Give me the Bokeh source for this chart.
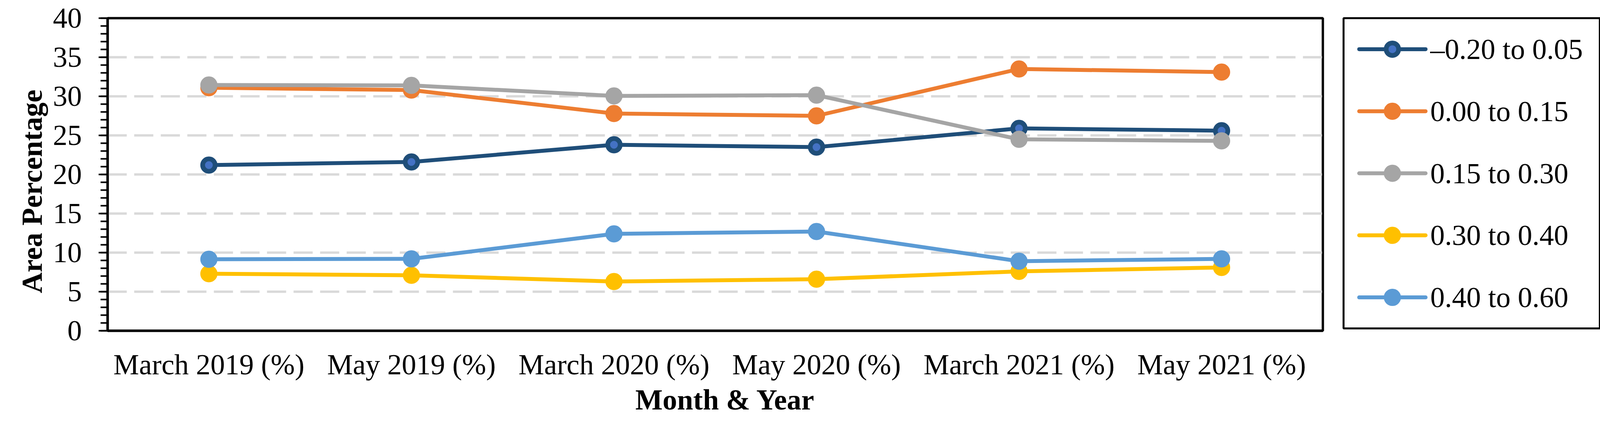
from bokeh.plotting import figure
from bokeh.models import SingleIntervalTicker, Range1d, FactorRange, Title
from bokeh.layouts import row
from bokeh.core.properties import value
from bokeh.embed import file_html
from bokeh.resources import INLINE

months = ["March 2019 (%)", "May 2019 (%)", "March 2020 (%)", "May 2020 (%)",
          "March 2021 (%)", "May 2021 (%)"]
series_names = ["\u20130.20 to 0.05", "0.00 to 0.15", "0.15 to 0.30", "0.30 to 0.40", "0.40 to 0.60"]
s_neg20_005 = [21.2, 21.6, 23.8, 23.5, 25.9, 25.6]
s_000_015 = [31.1, 30.8, 27.8, 27.5, 33.5, 33.1]
s_015_030 = [31.45, 31.4, 30.05, 30.15, 24.5, 24.3]
s_030_040 = [7.3, 7.1, 6.3, 6.6, 7.6, 8.1]
s_040_060 = [9.15, 9.2, 12.4, 12.7, 8.9, 9.2]
series_values = [s_neg20_005, s_000_015, s_015_030, s_030_040, s_040_060]
line_colors = ["#1F4E79", "#ED7D31", "#A5A5A5", "#FFC000", "#5B9BD5"]
fill_colors = ["#4472C4", "#ED7D31", "#A5A5A5", "#FFC000", "#5B9BD5"]

FONT = "Liberation Serif"
FS = "74px"

# ---------------- main chart ----------------
p = figure(x_range=FactorRange(factors=months, range_padding=0),
           y_range=Range1d(0, 40),
           frame_width=3111, frame_height=800,
           min_border_left=275, min_border_right=14,
           min_border_top=46, min_border_bottom=210,
           output_backend="svg", toolbar_location=None)

p.outline_line_color = "black"
p.outline_line_width = 6
p.xgrid.visible = False
p.ygrid.grid_line_color = "#D9D9D9"
p.ygrid.grid_line_width = 6
p.ygrid.grid_line_dash = "49 19"

p.yaxis.ticker = SingleIntervalTicker(interval=5, num_minor_ticks=5)
ya = p.yaxis[0]
ya.axis_line_width = 6
ya.axis_line_color = "black"
ya.major_tick_out = 23
ya.major_tick_in = 0
ya.minor_tick_out = 18
ya.minor_tick_in = 0
ya.major_tick_line_width = 4
ya.minor_tick_line_width = 4
ya.major_tick_line_color = "black"
ya.minor_tick_line_color = "black"
ya.major_label_standoff = 43
ya.major_label_text_font = FONT
ya.major_label_text_font_size = FS
ya.major_label_text_color = "black"

ytitle = Title(text="Area Percentage", align="left", offset=96, standoff=20,
               text_font=FONT, text_font_size=FS, text_font_style="bold",
               text_color="black")
p.add_layout(ytitle, "left")

xa = p.xaxis[0]
xa.axis_line_width = 6
xa.axis_line_color = "black"
xa.major_tick_out = 0
xa.major_tick_in = 0
xa.minor_tick_out = 0
xa.major_label_standoff = 45
xa.major_label_text_font = FONT
xa.major_label_text_font_size = FS
xa.major_label_text_color = "black"

xtitle = Title(text="Month & Year", align="left", offset=1351, standoff=10,
               vertical_align="top",
               text_font=FONT, text_font_size=FS, text_font_style="bold",
               text_color="black")
p.add_layout(xtitle, "below")

for name, vals, lc, fc in zip(series_names, series_values, line_colors, fill_colors):
    p.line(months, vals, line_color=lc, line_width=10, line_join="round", line_cap="round")
    p.scatter(months, vals, size=32, fill_color=fc, line_color=lc, line_width=12)

# ---------------- legend panel ----------------
LW, LH = 656, 805
lg = figure(x_range=Range1d(0, LW), y_range=Range1d(0, LH),
            width=724, height=1064,
            min_border_left=39, min_border_right=29,
            min_border_top=44, min_border_bottom=1064 - 44 - LH,
            x_axis_type=None, y_axis_type=None,
            output_backend="svg", toolbar_location=None)
lg.grid.visible = False
lg.outline_line_color = "black"
lg.outline_line_width = 5

pitch = 161
for i, (name, lc, fc) in enumerate(zip(series_names, line_colors, fill_colors)):
    yc = LH - (80.5 + i * pitch)
    lg.line([40, 210], [yc, yc], line_color=lc, line_width=10, line_cap="round")
    lg.scatter([125], [yc], size=32, fill_color=fc, line_color=lc, line_width=12)
    lg.text([222], [yc], text=[name], text_font=value(FONT), text_font_size=FS,
            text_color="black", text_baseline="middle", text_align="left")

layout = row(p, lg)
open("out.html", "w").write(file_html(layout, INLINE))
